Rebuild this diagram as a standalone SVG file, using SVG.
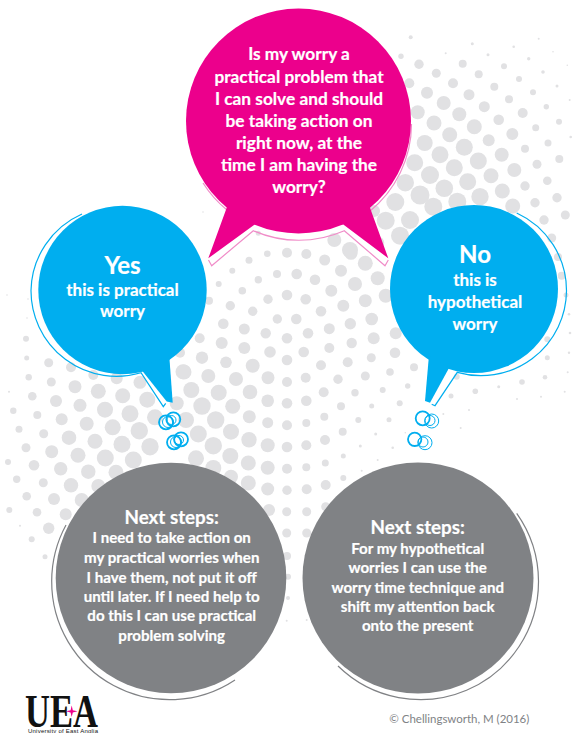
<svg xmlns="http://www.w3.org/2000/svg" width="581" height="733" viewBox="0 0 581 733">
<style>
.t{font-family:"Lato","Open Sans","Liberation Sans",sans-serif;font-weight:700;fill:#fff;stroke:#fff;stroke-width:.2;text-anchor:middle;font-size:17px}
.h{font-size:24px}
.n{font-size:18.8px}
.p{font-size:17.3px}
.s{font-size:15.1px}
.ol{fill:none;stroke-width:1.2}
.ring{fill:none;stroke:#00aeef}
</style>
<rect width="581" height="733" fill="#fff"/>
<g id="halftone" fill="#e1e1e3">
<circle cx="249" cy="260.3" r="3.5"/><circle cx="267.3" cy="253.7" r="3.3"/><circle cx="287" cy="252.7" r="5"/><circle cx="306.3" cy="254" r="5"/><circle cx="324.7" cy="260" r="5.5"/><circle cx="351" cy="253.3" r="6.5"/><circle cx="365.3" cy="263.3" r="7.5"/><circle cx="341" cy="270.7" r="6"/><circle cx="315" cy="279.7" r="5.3"/><circle cx="296.7" cy="274" r="5.3"/><circle cx="277" cy="274" r="4"/><circle cx="258.3" cy="279.7" r="3.7"/><circle cx="232.3" cy="270.7" r="3"/><circle cx="218.7" cy="284" r="3"/><circle cx="242.3" cy="290.7" r="3.8"/><circle cx="268" cy="299.3" r="4.7"/><circle cx="287" cy="295" r="5.3"/><circle cx="305.7" cy="299.3" r="5.3"/><circle cx="331.3" cy="290.7" r="6"/><circle cx="355" cy="284" r="7"/><circle cx="377.7" cy="278.3" r="7"/><circle cx="365.3" cy="300.7" r="6.5"/><circle cx="343.3" cy="305.7" r="6"/><circle cx="321" cy="311.3" r="5.3"/><circle cx="296.3" cy="319" r="5.3"/><circle cx="277.3" cy="319" r="4.7"/><circle cx="252.7" cy="311.3" r="4.7"/><circle cx="230.3" cy="305.7" r="4.7"/><circle cx="209" cy="300.7" r="4"/><circle cx="223.3" cy="323.7" r="5.3"/><circle cx="244.3" cy="329" r="5.5"/><circle cx="265.7" cy="333.3" r="5.2"/><circle cx="287" cy="338.3" r="5.3"/><circle cx="308" cy="333.3" r="5.3"/><circle cx="329.3" cy="328.7" r="5.5"/><circle cx="350.3" cy="323.7" r="5.7"/><circle cx="371.7" cy="319" r="6.3"/><circle cx="385.7" cy="295.7" r="7"/><circle cx="373.7" cy="338.3" r="6"/><circle cx="351.7" cy="343" r="5.2"/><circle cx="329.3" cy="348" r="5"/><circle cx="303.7" cy="352" r="5.3"/><circle cx="270" cy="352" r="5.8"/><circle cx="244.3" cy="348" r="6"/><circle cx="221.7" cy="343" r="6"/><circle cx="199.7" cy="338.3" r="5"/><circle cx="202" cy="357.7" r="6.2"/><circle cx="226" cy="362.3" r="5.8"/><circle cx="252.7" cy="365.7" r="7"/><circle cx="287" cy="360" r="5.3"/><circle cx="321" cy="365.3" r="5"/><circle cx="347.7" cy="362.3" r="5"/><circle cx="371.3" cy="357.7" r="4.5"/><circle cx="395" cy="352.7" r="5.3"/><circle cx="395.7" cy="333.3" r="6"/><circle cx="390" cy="372" r="3.8"/><circle cx="365.3" cy="376" r="4.5"/><circle cx="338" cy="379.3" r="4.7"/><circle cx="305.7" cy="377.7" r="5"/><circle cx="268" cy="377.7" r="6.5"/><circle cx="236" cy="379" r="7"/><circle cx="208.3" cy="376" r="7"/><circle cx="184" cy="372" r="7.5"/><circle cx="191.3" cy="390" r="8"/><circle cx="218.7" cy="392.7" r="8"/><circle cx="250" cy="392" r="7.3"/><circle cx="287" cy="382" r="5"/><circle cx="323.7" cy="392.3" r="5"/><circle cx="355" cy="392.7" r="3.7"/><circle cx="382.7" cy="390" r="3"/><circle cx="407.7" cy="386" r="2.7"/><circle cx="399.7" cy="403.3" r="3"/><circle cx="371.7" cy="406" r="2.5"/><circle cx="341" cy="406.3" r="4"/><circle cx="306.3" cy="400.7" r="5.3"/><circle cx="287" cy="403.3" r="5.3"/><circle cx="267.7" cy="400.7" r="6.3"/><circle cx="232.7" cy="406.3" r="7.5"/><circle cx="202" cy="406" r="8.7"/><circle cx="215.7" cy="420" r="8.7"/><circle cx="249.3" cy="416.7" r="6.5"/><circle cx="267.7" cy="422.7" r="5.5"/><circle cx="287" cy="425.3" r="5"/><circle cx="306.3" cy="423" r="4"/><circle cx="324.3" cy="416.7" r="4"/><circle cx="358.3" cy="420" r="3"/><circle cx="389" cy="419.7" r="2.5"/><circle cx="342.7" cy="431.7" r="4"/><circle cx="375.7" cy="434" r="1.5"/><circle cx="325" cy="440" r="5"/><circle cx="306.3" cy="445.3" r="5"/><circle cx="287" cy="447" r="5.3"/><circle cx="267.7" cy="445.3" r="7"/><circle cx="249" cy="439.7" r="7.7"/><circle cx="231" cy="431.7" r="8"/><circle cx="198.3" cy="434" r="8.5"/><circle cx="186" cy="420" r="8"/><circle cx="213.3" cy="445.7" r="8.7"/><circle cx="230.3" cy="456" r="8"/><circle cx="248.3" cy="463" r="7.5"/><circle cx="267.7" cy="467.7" r="7"/><circle cx="287" cy="468.7" r="5"/><circle cx="306.3" cy="467.3" r="4"/><circle cx="325.3" cy="463" r="3.5"/><circle cx="343.3" cy="456" r="2.5"/><circle cx="360.3" cy="446" r="1.5"/><circle cx="392.7" cy="447.7" r="1.3"/><circle cx="377.7" cy="460" r="1"/><circle cx="361.7" cy="470.7" r="1"/><circle cx="196" cy="458.3" r="8"/><circle cx="213.3" cy="468" r="8"/><circle cx="231" cy="476.7" r="7"/><circle cx="343.3" cy="478" r="3"/>
<circle cx="248.3" cy="483" r="7.5"/><circle cx="267.7" cy="489" r="6.5"/><circle cx="287" cy="490.3" r="4.7"/><circle cx="286.7" cy="511.7" r="4.5"/><circle cx="269" cy="510" r="6"/><circle cx="286.7" cy="533" r="4.5"/><circle cx="287" cy="556" r="4"/><circle cx="288" cy="576.7" r="3"/><circle cx="288" cy="598" r="2"/><circle cx="286.7" cy="620.7" r="1"/><circle cx="325.7" cy="485" r="5"/><circle cx="306.7" cy="489.3" r="5"/><circle cx="306.7" cy="511.7" r="4.5"/><circle cx="325.7" cy="506.7" r="4.5"/><circle cx="306.7" cy="533" r="4.5"/><circle cx="306.7" cy="620" r="1"/>
<circle cx="410.7" cy="37.3" r="2"/><circle cx="401" cy="56.3" r="2.7"/><circle cx="419" cy="64.3" r="4.7"/><circle cx="436.3" cy="73.3" r="4.5"/><circle cx="462.7" cy="63.7" r="4"/><circle cx="478.7" cy="74.3" r="4"/><circle cx="504" cy="66.3" r="3"/><circle cx="519" cy="79" r="3"/><circle cx="409.3" cy="83.3" r="5"/><circle cx="453" cy="83.3" r="5"/><circle cx="427" cy="92.7" r="6"/><circle cx="469" cy="94.7" r="5.5"/><circle cx="494.3" cy="86.7" r="4"/><circle cx="509" cy="99.3" r="4"/><circle cx="533" cy="92.3" r="3"/><circle cx="546.3" cy="106.7" r="2.7"/><circle cx="522.7" cy="113" r="5"/><circle cx="484.3" cy="106.7" r="5.5"/><circle cx="443.7" cy="103" r="7"/><circle cx="417.7" cy="112.3" r="7"/><circle cx="459.3" cy="114.3" r="7"/><circle cx="498.7" cy="119.7" r="5.3"/><circle cx="434" cy="123" r="7.5"/><circle cx="474.3" cy="126.7" r="7.5"/><circle cx="535.7" cy="127.7" r="3.5"/><circle cx="559" cy="121.7" r="3"/><circle cx="512.3" cy="134" r="6"/><circle cx="488.7" cy="140.3" r="6"/><circle cx="449.7" cy="134.7" r="7.5"/><circle cx="424.7" cy="143" r="8"/><circle cx="464.3" cy="147.3" r="8.5"/><circle cx="548" cy="143" r="3.5"/><circle cx="525" cy="148.7" r="4"/><circle cx="501.7" cy="154.7" r="7"/><circle cx="440" cy="154.7" r="8.5"/><circle cx="414.7" cy="162.7" r="8.5"/><circle cx="478.3" cy="161" r="8.5"/><circle cx="537" cy="164.3" r="4.5"/><circle cx="559.3" cy="159" r="4"/><circle cx="514.3" cy="170" r="7"/><circle cx="454.3" cy="167.7" r="8.5"/><circle cx="491" cy="175.7" r="7.5"/><circle cx="430" cy="175" r="9"/><circle cx="405.3" cy="182.7" r="8.7"/><circle cx="467.7" cy="181.7" r="8.5"/><circle cx="547.3" cy="180.7" r="4.3"/><circle cx="525" cy="186" r="4.7"/><circle cx="502.3" cy="191" r="7.5"/><circle cx="444.3" cy="188.3" r="8.8"/><circle cx="420" cy="195" r="9.5"/><circle cx="480" cy="196.7" r="8.7"/><circle cx="395.3" cy="202" r="9"/><circle cx="557" cy="197.7" r="4.7"/><circle cx="535" cy="202.7" r="4.7"/><circle cx="512.7" cy="206" r="7.5"/><circle cx="457.3" cy="201.7" r="9"/><circle cx="433.3" cy="206.7" r="9"/>
<circle cx="472.3" cy="43.7" r="1.5"/><circle cx="488" cy="54.7" r="1.5"/><circle cx="513.7" cy="46.7" r="1.3"/><circle cx="528.7" cy="58.7" r="1.7"/><circle cx="543" cy="72" r="1.8"/><circle cx="557" cy="86" r="1.5"/><circle cx="569.7" cy="100" r="1"/><circle cx="570.7" cy="137" r="1.3"/><circle cx="538.7" cy="38.7" r="1"/><circle cx="553" cy="51.7" r=".8"/><circle cx="567.3" cy="65.3" r=".8"/><circle cx="445.7" cy="53.3" r="1"/>
<circle cx="565.3" cy="215" r="4.5"/><circle cx="544" cy="220" r="4.7"/><circle cx="551.7" cy="238" r="4.5"/><circle cx="558" cy="257" r="4"/><circle cx="561.7" cy="275.7" r="4"/><circle cx="566" cy="295" r="2.5"/><circle cx="569" cy="314.3" r="1.3"/><circle cx="570" cy="333" r="1.3"/><circle cx="547.3" cy="339.3" r="3"/><circle cx="547.3" cy="357.7" r="2.5"/><circle cx="545" cy="377.3" r="2.3"/><circle cx="522" cy="382" r="2.8"/><circle cx="498.7" cy="386.7" r="1.5"/><circle cx="475.3" cy="391.3" r="2.8"/><circle cx="451" cy="396" r="2.5"/><circle cx="569" cy="352.7" r="1.2"/><circle cx="567.7" cy="372.3" r="1"/><circle cx="564.7" cy="391.7" r="1"/><circle cx="541" cy="396.7" r="1"/><circle cx="517" cy="399" r="1"/><circle cx="456.7" cy="376.7" r="3"/><circle cx="414" cy="367.3" r="4"/><circle cx="443.3" cy="414" r="1"/><circle cx="469" cy="410" r="1"/><circle cx="460.7" cy="428" r="1"/><circle cx="405.3" cy="432.7" r=".8"/>
<circle cx="48.7" cy="362.7" r="4.5"/><circle cx="71" cy="367.3" r="5"/><circle cx="28.7" cy="377.3" r="3.2"/><circle cx="51.3" cy="382" r="4.5"/><circle cx="75" cy="386.7" r="6.5"/><circle cx="98.3" cy="391.3" r="7.5"/><circle cx="122.7" cy="395.7" r="7.5"/><circle cx="147.3" cy="399.7" r="8"/><circle cx="32.3" cy="396.3" r="4.3"/><circle cx="56" cy="401" r="6"/><circle cx="80" cy="405.3" r="6.5"/><circle cx="105" cy="409.7" r="8"/><circle cx="130" cy="413.7" r="8.5"/><circle cx="155" cy="417.3" r="8"/><circle cx="13.3" cy="410.7" r="3.2"/><circle cx="37.3" cy="415" r="4"/><circle cx="61.7" cy="419.3" r="6"/><circle cx="86.7" cy="423.7" r="7"/><circle cx="112.7" cy="427.3" r="8"/><circle cx="139.3" cy="430.7" r="8.7"/><circle cx="19" cy="429.3" r="3.5"/><circle cx="43.7" cy="433.7" r="4.5"/><circle cx="69" cy="437.7" r="7.3"/><circle cx="95" cy="441.3" r="7.5"/><circle cx="122" cy="444.3" r="8.5"/><circle cx="150" cy="446.7" r="8.7"/><circle cx="26" cy="447.7" r="4.5"/><circle cx="51.7" cy="451.7" r="6.5"/><circle cx="78" cy="455.3" r="7.5"/><circle cx="105.3" cy="458" r="8.5"/><circle cx="133.3" cy="460" r="8.5"/><circle cx="8" cy="462" r="3"/><circle cx="34" cy="465.3" r="5.3"/><circle cx="60.7" cy="468.7" r="6.7"/><circle cx="88.3" cy="471.7" r="7.2"/><circle cx="116" cy="472.3" r="7.5"/><circle cx="16.7" cy="479.3" r="3.7"/><circle cx="43.3" cy="482.7" r="4.5"/><circle cx="71" cy="485.3" r="7.2"/><circle cx="98.3" cy="486" r="7"/><circle cx="26.7" cy="496.3" r="4.3"/><circle cx="54" cy="499" r="6"/><circle cx="81.7" cy="500" r="7"/><circle cx="9.3" cy="510" r="3"/><circle cx="37" cy="512.3" r="4.3"/><circle cx="65.7" cy="514.3" r="6"/><circle cx="48.7" cy="528.3" r="5.7"/><circle cx="20" cy="525.7" r="1"/><circle cx="31.7" cy="539.3" r="3"/><circle cx="45" cy="556.7" r="2.5"/><circle cx="9" cy="391.7" r="1"/>
<circle cx="26" cy="338.7" r="3"/><circle cx="26.7" cy="358" r="2.5"/><circle cx="183" cy="371.7" r="7.5"/><circle cx="176.7" cy="403.3" r="7"/><circle cx="180" cy="352.7" r="5"/><circle cx="140" cy="382.3" r="6.5"/><circle cx="116.7" cy="378.3" r="6"/><circle cx="93.3" cy="375" r="5"/><circle cx="7" cy="295" r=".8"/><circle cx="28" cy="299" r=".8"/><circle cx="27" cy="318" r=".8"/><circle cx="203" cy="212" r=".8"/><circle cx="385.7" cy="220.7" r="9"/><circle cx="400" cy="235.7" r="9"/><circle cx="374" cy="211" r="6"/><circle cx="350" cy="250" r="8"/><circle cx="334.3" cy="240" r="7"/><circle cx="258.3" cy="233.3" r="2.5"/><circle cx="378.3" cy="242.7" r="6"/><circle cx="410" cy="220" r="9"/>
</g>
<g id="connectors">
<g class="ring" stroke-width="1.8"><circle cx="166" cy="422.3" r="7"/><circle cx="173.3" cy="419.3" r="7"/><circle cx="174" cy="442.3" r="7"/><circle cx="181" cy="439.3" r="7"/><circle cx="422.7" cy="418.3" r="7"/><circle cx="414.7" cy="439.3" r="6.7"/></g>
<g class="ring" stroke-width="1"><circle cx="168" cy="422" r="5.5"/><circle cx="171.5" cy="420" r="4.5"/><circle cx="176" cy="442" r="5.5"/><circle cx="179" cy="440" r="4.5"/><circle cx="431.7" cy="421" r="7"/><circle cx="430" cy="420.5" r="5"/><circle cx="425" cy="442.7" r="7"/><circle cx="423" cy="442" r="5"/></g>
</g>
<g id="question">
<path class="ol" stroke="#f08cc8" d="M208.5 260L211.7 265.7L253.3 230.7A113 113 0 0 0 344.3 230.7L385 265.7L388.3 260"/>
<path class="ol" stroke="#f08cc8" d="M203 183A113 113 0 0 0 227 210M369 212A113 113 0 0 0 411.5 124"/>
<circle cx="298.5" cy="121" r="112.5" fill="#ec008c"/>
<path fill="#ec008c" d="M227.7 205L208.3 258.3L254.7 224.5H343.3L388.3 258.3L369 205Z"/>
<text class="t p"><tspan x="299" y="60">Is my worry a</tspan><tspan x="299" y="82.5">practical problem that</tspan><tspan x="299" y="105">I can solve and should</tspan><tspan x="299" y="126.7">be taking action on</tspan><tspan x="299" y="149">right now, at the</tspan><tspan x="299" y="171">time I am having the</tspan><tspan x="299" y="192.7">worry?</tspan></text>
</g>
<g id="yes">
<path class="ol" stroke="#00aeef" d="M82 214A85.5 85.5 0 0 0 31 290.5A85.5 85.5 0 0 0 141 372.7L163.3 406.7L165.7 403.3"/>
<circle cx="122.5" cy="290" r="84.2" fill="#00aeef"/>
<path fill="#00aeef" d="M140 368L166.7 401.5L172.7 402.7L169.2 355Z"/>
<text class="t h" x="122.5" y="274.3">Yes</text>
<text class="t"><tspan x="122.5" y="295.7">this is practical</tspan><tspan x="122.5" y="317.3">worry</tspan></text>
</g>
<g id="no">
<path class="ol" stroke="#00aeef" d="M516.7 213A85.5 85.5 0 0 1 566.5 291A85.5 85.5 0 0 1 457.3 372.3L435 405.7L431.7 404.3"/>
<circle cx="474" cy="289" r="84" fill="#00aeef"/>
<path fill="#00aeef" d="M429 355L425 401L430 402.7L449 368Z"/>
<text class="t h" x="475" y="263.3">No</text>
<text class="t"><tspan x="475" y="285.7">this is</tspan><tspan x="475" y="308.3">hypothetical</tspan><tspan x="475" y="330">worry</tspan></text>
</g>
<g id="steps-practical">
<path class="ol" stroke="#808285" d="M66 525A118 118 0 0 0 51.7 581A118 118 0 0 0 235 680"/>
<circle cx="171" cy="578" r="115.3" fill="#808285"/>
<text class="t n" x="171.7" y="524">Next steps:</text>
<text class="t s"><tspan x="171.7" y="543.3">I need to take action on</tspan><tspan x="171.7" y="563.3">my practical worries when</tspan><tspan x="171.7" y="582.7">I have them, not put it off</tspan><tspan x="171.7" y="602.3">until later. If I need help to</tspan><tspan x="171.7" y="620.7">do this I can use practical</tspan><tspan x="171.7" y="641">problem solving</tspan></text>
</g>
<g id="steps-hypothetical">
<path class="ol" stroke="#808285" d="M516.7 513.3A118 118 0 0 1 538.5 581A118 118 0 0 1 338 666"/>
<circle cx="418" cy="578" r="115.5" fill="#808285"/>
<text class="t n" x="417.7" y="534">Next steps:</text>
<text class="t s"><tspan x="417.7" y="554">For my hypothetical</tspan><tspan x="417.7" y="573.3">worries I can use the</tspan><tspan x="417.7" y="592.7">worry time technique and</tspan><tspan x="417.7" y="612.3">shift my attention back</tspan><tspan x="417.7" y="631">onto the present</tspan></text>
</g>
<g id="logo">
<text x="25" y="727" font-family="Liberation Serif,serif" font-weight="700" font-size="47" textLength="73" lengthAdjust="spacingAndGlyphs" fill="#111">UEA</text>
<path fill="#ec008c" d="M71.7 705.5L72.8 710.2L77.5 711.3L72.8 712.4L71.7 717L70.6 712.4L66 711.3L70.6 710.2Z"/>
<text x="28" y="732.5" font-family="Liberation Sans,sans-serif" font-size="6" textLength="70" fill="#111">University of East Anglia</text>
</g>
<text id="credit" x="389.3" y="722.7" font-family="Lato,Open Sans,sans-serif" font-size="11.5" textLength="140" fill="#808285">© Chellingsworth, M (2016)</text>
</svg>
